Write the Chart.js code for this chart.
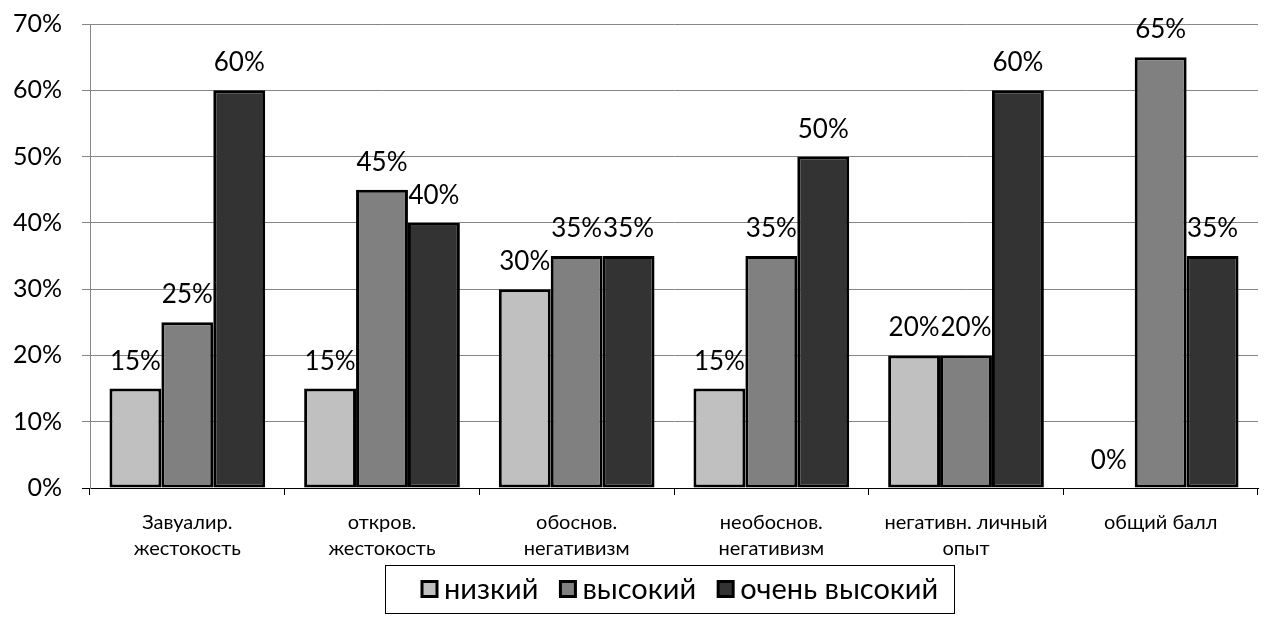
<!DOCTYPE html>
<html>
<head>
<meta charset="utf-8">
<script src="https://cdn.jsdelivr.net/npm/chart.js@4.4.0/dist/chart.umd.min.js"></script>
<style>
  html, body { margin: 0; padding: 0; background: #fff; }
  #wrap { width: 1269px; height: 639px; }
</style>
</head>
<body>
<div id="wrap"><canvas id="chart"></canvas></div>
<script>
const categories = [
  ["Завуалир.", "жестокость"],
  ["откров.", "жестокость"],
  ["обоснов.", "негативизм"],
  ["необоснов.", "негативизм"],
  ["негативн. личный", "опыт"],
  ["общий балл"]
];
const seriesNames = ["низкий", "высокий", "очень высокий"];
const low = [15, 15, 30, 15, 20, 0];
const high = [25, 45, 35, 35, 20, 65];
const veryHigh = [60, 40, 35, 50, 60, 35];
const yTicks = [0, 10, 20, 30, 40, 50, 60, 70];

const colors = ["#c0c0c0", "#808080", "#333333"];
const FONT = "Lato";

// value labels above every bar
const barLabels = {
  id: "barLabels",
  afterDatasetsDraw(chart) {
    const ctx = chart.ctx;
    ctx.save();
    ctx.font = "26px " + FONT;
    ctx.fillStyle = "#000";
    ctx.textAlign = "center";
    ctx.textBaseline = "alphabetic";
    chart.data.datasets.forEach((ds, i) => {
      chart.getDatasetMeta(i).data.forEach((bar, j) => {
        ctx.fillText(ds.data[j] + "%", bar.x, bar.y - 19);
      });
    });
    ctx.restore();
  }
};

// legend drawn by hand so the box/text spacing is tight, with a frame
const boxLegend = {
  id: "boxLegend",
  afterDraw(chart) {
    const ctx = chart.ctx;
    const area = chart.chartArea;
    const sz = 15, gapText = 7, gapItem = 22;
    ctx.save();
    ctx.font = "29px " + FONT;
    const items = chart.data.datasets.map(ds => ({
      label: ds.label, color: ds.backgroundColor, w: ctx.measureText(ds.label).width
    }));
    const content = items.reduce((s, it) => s + sz + gapText + it.w, 0) + gapItem * (items.length - 1);
    const padL = 37, padR = 16;
    const frameW = content + padL + padR;
    const frameX = Math.round((area.left + area.right) / 2 - 4 - frameW / 2);
    const frameY = area.bottom + 77;
    const frameH = 48;
    ctx.strokeStyle = "#000";
    ctx.lineWidth = 1;
    ctx.strokeRect(frameX + 0.5, frameY + 0.5, Math.round(frameW), frameH);
    const cy = frameY + frameH / 2;
    let x = frameX + padL;
    ctx.textBaseline = "middle";
    ctx.textAlign = "left";
    items.forEach(it => {
      ctx.fillStyle = it.color;
      ctx.fillRect(x, cy - sz / 2, sz, sz);
      ctx.lineWidth = 3;
      ctx.strokeStyle = "#000";
      ctx.strokeRect(x, cy - sz / 2, sz, sz);
      x += sz + gapText;
      ctx.fillStyle = "#000";
      ctx.fillText(it.label, x, cy + 1);
      x += it.w + gapItem;
    });
    ctx.restore();
  }
};

const datasets = [low, high, veryHigh].map((vals, i) => ({
  label: seriesNames[i],
  data: vals,
  backgroundColor: colors[i],
  borderColor: "#000",
  borderWidth: 3,
  borderSkipped: false,
  categoryPercentage: 0.8,
  barPercentage: 1.0
}));

new Chart(document.getElementById("chart"), {
  type: "bar",
  data: { labels: categories, datasets: datasets },
  options: {
    responsive: true,
    maintainAspectRatio: false,
    animation: false,
    layout: { padding: { top: 0, right: 11, left: 0, bottom: 81 } },
    plugins: {
      tooltip: { enabled: false },
      legend: { display: false }
    },
    scales: {
      x: {
        grid: { offset: true, drawOnChartArea: false, color: "#000", tickLength: 7 },
        border: { color: "#000", width: 1 },
        ticks: { color: "#000", font: { family: FONT, size: 20, lineHeight: 1.3 }, padding: 15, maxRotation: 0, autoSkip: false },
        afterFit(scale) { scale.height = 70; }
      },
      y: {
        min: 0,
        max: 70,
        afterBuildTicks(scale) { scale.ticks = yTicks.map(v => ({ value: v })); },
        grid: {
          color: ctx => (ctx.tick && ctx.tick.value === 0 ? "#000" : "#868686"),
          tickLength: 8,
          lineWidth: 1
        },
        border: { color: "#868686", width: 1 },
        ticks: {
          color: "#000",
          font: { family: FONT, size: 25 },
          padding: 20,
          callback: v => v + "%"
        },
        afterFit(scale) {
          scale.width = 90;
          scale.paddingTop = 24;
          scale.paddingBottom = 0;
        }
      }
    }
  },
  plugins: [barLabels, boxLegend]
});
</script>
</body>
</html>
